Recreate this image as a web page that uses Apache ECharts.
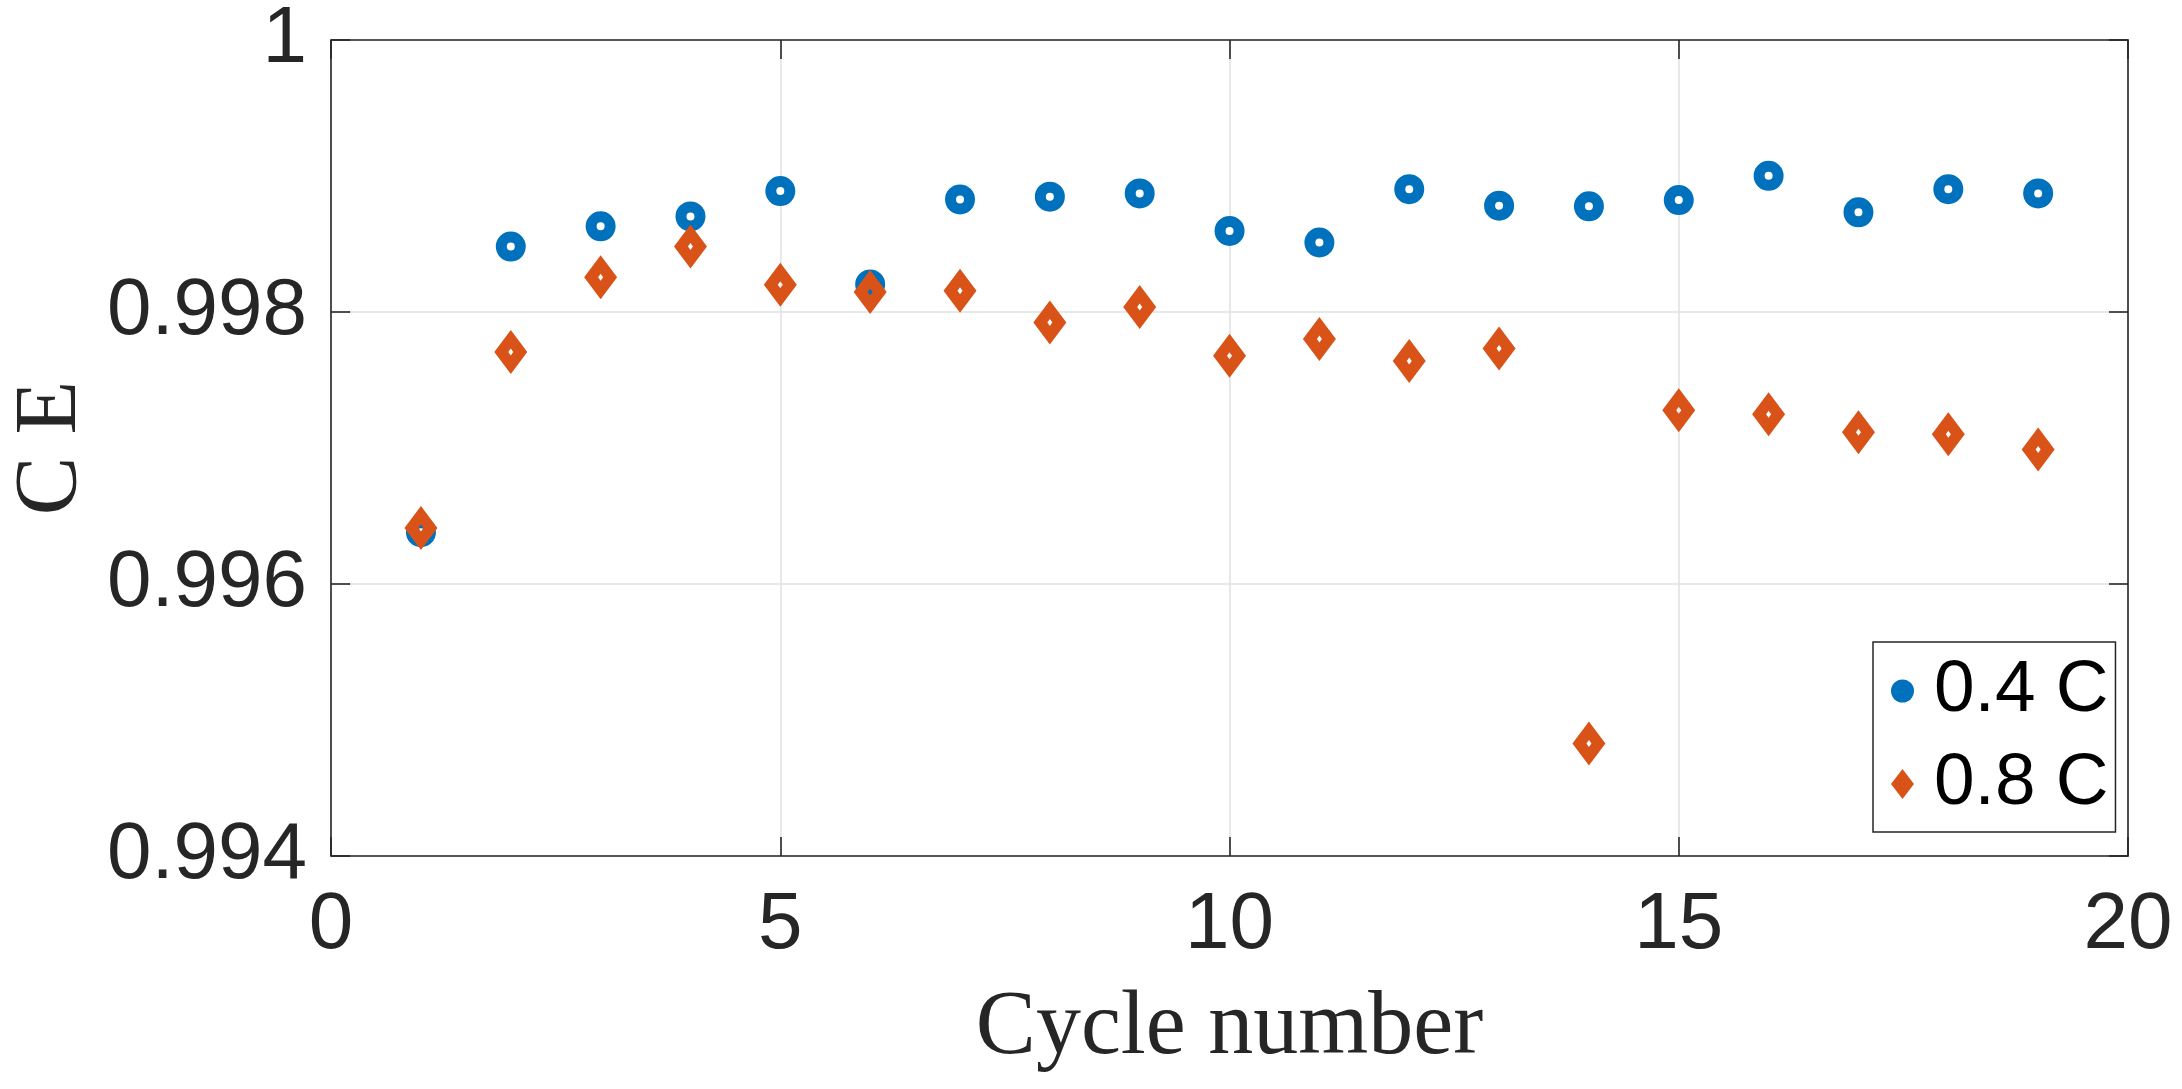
<!DOCTYPE html>
<html>
<head>
<meta charset="utf-8">
<script src="https://cdn.jsdelivr.net/npm/echarts@6/dist/echarts.min.js"></script>
<style>
html,body{margin:0;padding:0;background:#fff;}
#chart{width:2182px;height:1089px;}
</style>
</head>
<body>
<div id="chart"></div>
<script>
const cycles = [1,2,3,4,5,6,7,8,9,10,11,12,13,14,15,16,17,18,19];
const ce04 = [0.996381,0.998481,0.998630,0.998703,0.998889,0.998203,0.998828,0.998848,0.998872,0.998596,0.998511,0.998903,0.998782,0.998777,0.998823,0.999001,0.998733,0.998903,0.998872];
const ce08 = [0.996412,0.997705,0.998256,0.998481,0.998200,0.998147,0.998156,0.997922,0.998037,0.997678,0.997802,0.997639,0.997731,0.994828,0.997277,0.997248,0.997116,0.997101,0.996989];
const seriesNames = ['0.4 C','0.8 C'];
const xTicks = {min:0, max:20, interval:5};
const yTicks = {min:0.994, max:1, interval:0.002};

const blue = '#0072BD', orange = '#D95319', axisCol = '#262626';
const chart = echarts.init(document.getElementById('chart'), null, {renderer:'canvas'});
const diamondRing = 'path://M0,0 L16.5,22 L0,44 L-16.5,22 Z M0,18.5 L-2.5,22 L0,25.5 L2.5,22 Z';

const tickCommon = {
  axisLine:{show:true, onZero:false, lineStyle:{color:axisCol, width:1.6}},
  axisTick:{show:true, inside:true, length:19, lineStyle:{color:axisCol, width:1.6}},
};

chart.setOption({
  animation:false,
  backgroundColor:'#fff',
  grid:{left:321, top:37, right:54, bottom:233, containLabel:false},
  xAxis:[{
    type:'value', position:'bottom', min:xTicks.min, max:xTicks.max, interval:xTicks.interval,
    ...tickCommon,
    axisLabel:{fontSize:80, fontFamily:'Liberation Sans', color:axisCol, margin:30},
    splitLine:{show:true, lineStyle:{color:'#e0e0e0', width:1.5}},
    name:'Cycle number', nameLocation:'middle', nameGap:128,
    nameTextStyle:{fontSize:90, fontFamily:'Liberation Serif', color:axisCol}
  },{
    type:'value', position:'top', min:xTicks.min, max:xTicks.max, interval:xTicks.interval,
    ...tickCommon, axisLabel:{show:false}, splitLine:{show:false}
  }],
  yAxis:[{
    type:'value', position:'left', min:yTicks.min, max:yTicks.max, interval:yTicks.interval,
    ...tickCommon,
    axisLabel:{fontSize:80, fontFamily:'Liberation Sans', color:axisCol, margin:24,
      formatter:v=>String(+v.toFixed(3))},
    splitLine:{show:true, lineStyle:{color:'#e0e0e0', width:1.5}},
    name:'C E', nameLocation:'middle', nameGap:235,
    nameTextStyle:{fontSize:88, fontFamily:'Liberation Serif', color:axisCol}
  },{
    type:'value', position:'right', min:yTicks.min, max:yTicks.max, interval:yTicks.interval,
    ...tickCommon, axisLabel:{show:false}, splitLine:{show:false}
  }],
  legend:{
    orient:'vertical', left:1873, top:642,
    padding:[12,7,11,18], itemGap:19, itemWidth:23, itemHeight:30,
    backgroundColor:'#fff', borderColor:axisCol, borderWidth:1.5, borderRadius:0,
    textStyle:{fontSize:73, fontFamily:'Liberation Sans', color:'#000', lineHeight:74, padding:[0,0,0,15]},
    data:[
      {name:seriesNames[0], icon:'circle', itemStyle:{color:blue, borderWidth:0}},
      {name:seriesNames[1], icon:'diamond', itemStyle:{color:orange, borderWidth:0}}
    ]
  },
  series:[{
    name:seriesNames[0], type:'scatter', xAxisIndex:0, yAxisIndex:0,
    data:cycles.map((c,i)=>[c, ce04[i]]),
    symbol:'circle', symbolSize:19,
    itemStyle:{color:'#fff', borderColor:blue, borderWidth:11, opacity:1},
    emphasis:{disabled:true}, z:2
  },{
    name:seriesNames[1], type:'scatter', xAxisIndex:0, yAxisIndex:0,
    data:cycles.map((c,i)=>[c, ce08[i]]),
    symbol:diamondRing, symbolSize:[33,44],
    itemStyle:{color:orange, opacity:1},
    emphasis:{disabled:true}, z:3
  }]
});
</script>
</body>
</html>
